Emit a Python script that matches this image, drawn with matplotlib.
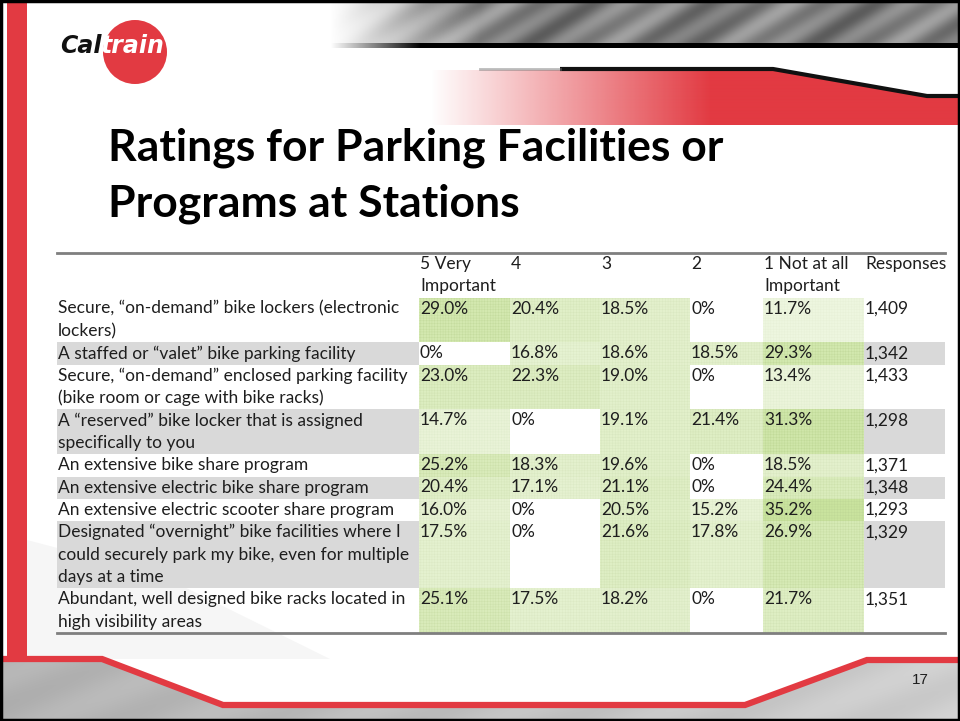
import numpy as np
import matplotlib.pyplot as plt
from matplotlib.patches import Polygon, Rectangle, Circle

# ---- data ----
labels = [
    "Secure, \u201con-demand\u201d bike lockers (electronic\nlockers)",
    "A staffed or \u201cvalet\u201d bike parking facility",
    "Secure, \u201con-demand\u201d enclosed parking facility\n(bike room or cage with bike racks)",
    "A \u201creserved\u201d bike locker that is assigned\nspecifically to you",
    "An extensive bike share program",
    "An extensive electric bike share program",
    "An extensive electric scooter share program",
    "Designated \u201covernight\u201d bike facilities where I\ncould securely park my bike, even for multiple\ndays at a time",
    "Abundant, well designed bike racks located in\nhigh visibility areas",
]
headers = ["5 Very\nImportant", "4", "3", "2", "1 Not at all\nImportant", "Responses"]
very_important = [29.0, 0, 23.0, 14.7, 25.2, 20.4, 16.0, 17.5, 25.1]
rating_4 = [20.4, 16.8, 22.3, 0, 18.3, 17.1, 0, 0, 17.5]
rating_3 = [18.5, 18.6, 19.0, 19.1, 19.6, 21.1, 20.5, 21.6, 18.2]
rating_2 = [0, 18.5, 0, 21.4, 0, 0, 15.2, 17.8, 0]
not_important = [11.7, 29.3, 13.4, 31.3, 18.5, 24.4, 35.2, 26.9, 21.7]
responses = [1409, 1342, 1433, 1298, 1371, 1348, 1293, 1329, 1351]

title = "Ratings for Parking Facilities or\nPrograms at Stations"
page = "17"

RED = "#e23a42"
TXT = "#1e1e1e"
FONT = "Lato"
FS = 12.5

fig = plt.figure(figsize=(9.6, 7.21), dpi=100)
ax = fig.add_axes([0, 0, 1, 1])
ax.set_xlim(0, 960)
ax.set_ylim(721, 0)
ax.axis("off")


def gradient_fill(pts, img, zorder=1):
    poly = Polygon(pts, closed=True, facecolor="none", edgecolor="none")
    ax.add_patch(poly)
    xs = [p[0] for p in pts]
    ys = [p[1] for p in pts]
    im = ax.imshow(img, extent=[min(xs), max(xs), max(ys), min(ys)],
                   origin="upper", aspect="auto", zorder=zorder,
                   interpolation="bilinear")
    im.set_clip_path(poly)


# ---- slide decoration ----
# metal band at top
W, H = 630, 44
xx, yy = np.meshgrid(np.arange(W), np.arange(H))
g = 0.50 + 0.08 * np.sin((xx + 1.6 * yy) / 9.0) + 0.06 * np.sin((xx + 1.2 * yy) / 23.0)
metal = np.dstack([g, g, g, np.clip(xx / 150.0, 0, 1)])
gradient_fill([(330, 0), (960, 0), (960, 43), (330, 43)], metal)
stripe = np.zeros((4, W, 4))
stripe[..., 3] = np.clip(xx[:4] / 90.0, 0, 1)
gradient_fill([(330, 43), (960, 43), (960, 48), (330, 48)], stripe)

# red band with fade-in
band_pts = [(430, 70), (773, 70), (927, 97), (960, 97), (960, 125), (430, 125)]
bw = 530
bx = np.arange(bw)[None, :].repeat(10, axis=0)
rc = plt.matplotlib.colors.to_rgb(RED)
band = np.dstack([np.full(bx.shape, rc[0]), np.full(bx.shape, rc[1]),
                  np.full(bx.shape, rc[2]), np.clip(bx / 280.0, 0, 1)])
gradient_fill(band_pts, band)
ax.plot([560, 773, 927, 960], [69, 69, 96, 96], color="#111111", lw=3, zorder=3,
        solid_capstyle="butt")
ax.plot([480, 560], [69, 69], color="#777777", lw=2, zorder=3, alpha=0.5)

# left red bar
ax.add_patch(Rectangle((7, 0), 20, 660, facecolor=RED, edgecolor="none", zorder=2))

# faint swoosh bottom-left
ax.add_patch(Polygon([(27, 540), (160, 575), (330, 659), (27, 659)], closed=True,
                     facecolor="#f6f6f6", edgecolor="none", zorder=0))

# bottom gray band
foot = [(0, 659), (102, 659), (223, 705), (745, 705), (867, 660), (960, 660),
        (960, 721), (0, 721)]
fx, fy = np.meshgrid(np.linspace(0, 1, 200), np.linspace(0, 1, 20))
fg = 0.70 + 0.11 * fx + 0.02 * np.sin(fx * 40 + fy * 6)
gradient_fill(foot, np.dstack([fg, fg, fg]))
ax.plot([0, 102, 223, 745, 867, 960], [659, 659, 705, 705, 660, 660],
        color=RED, lw=4.5, zorder=3, solid_joinstyle="miter")
ax.text(920, 680, page, fontsize=11, family="Liberation Sans", color=TXT,
        ha="center", va="center", zorder=4)

# logo
ax.add_patch(Circle((135, 52), 32, facecolor=RED, edgecolor="none", zorder=3))
ax.text(102, 53, "Cal", fontsize=17, family="DejaVu Sans", weight="bold",
        style="italic", color="#111111", va="baseline", ha="right", zorder=4)
ax.text(101, 53, "train", fontsize=17, family="DejaVu Sans", weight="bold",
        style="italic", color="white", va="baseline", ha="left", zorder=4)

# title
for i, line in enumerate(title.split("\n")):
    ax.text(108, 160 + i * 57, line, fontsize=32, family=FONT, weight="bold",
            color="black", va="baseline", zorder=4)

# ---- table ----
col_left = [57, 419, 510, 600, 690, 763, 864]
col_right = 945
line_h = 22.35
top = 253

cols = [very_important, rating_4, rating_3, rating_2, not_important]
vmax = max(max(c) for c in cols)
green = np.array([0.79, 0.89, 0.62])
plt.rcParams["hatch.linewidth"] = 0.3

y = top
for j, h in enumerate(headers):
    for k, part in enumerate(h.split("\n")):
        ax.text(col_left[j + 1] + 1, y + 11 + k * line_h, part, fontsize=FS,
                family=FONT, color=TXT, va="center", zorder=5)
y += 2 * line_h

for i, lab in enumerate(labels):
    lines = lab.split("\n")
    rh = len(lines) * line_h
    banded = i % 2 == 1
    if banded:
        ax.add_patch(Rectangle((col_left[0], y), col_left[1] - col_left[0], rh,
                               facecolor="#d9d9d9", edgecolor="none", zorder=2))
        ax.add_patch(Rectangle((col_left[6], y), col_right - col_left[6], rh,
                               facecolor="#d9d9d9", edgecolor="none", zorder=2))
    for k, part in enumerate(lines):
        ax.text(col_left[0] + 1, y + 11 + k * line_h, part, fontsize=FS,
                family=FONT, color=TXT, va="center", zorder=5)
    for j, col in enumerate(cols):
        v = col[i]
        x0, x1 = col_left[j + 1], col_left[j + 2]
        if v > 0:
            t = v / vmax
            fc = 1 - t * (1 - green)
            ec = 1 - min(1.0, t * 1.15) * (1 - green * 0.95)
            ax.add_patch(Rectangle((x0, y), x1 - x0, rh, facecolor=fc,
                                   edgecolor=ec, hatch="++++++", lw=0, zorder=3))
            s = f"{v:.1f}%"
        else:
            s = "0%"
        ax.text(x0 + 1, y + 11, s, fontsize=FS, family=FONT, color=TXT,
                va="center", zorder=5)
    ax.text(col_left[6] + 1, y + 11, f"{responses[i]:,}", fontsize=FS,
            family=FONT, color=TXT, va="center", zorder=5)
    y += rh

ax.plot([col_left[0], col_right], [top, top], color="#7f7f7f", lw=2, zorder=6)
ax.plot([col_left[0], col_right], [y, y], color="#7f7f7f", lw=2, zorder=6)

# slide border
ax.add_patch(Rectangle((1, 1), 958, 719, facecolor="none", edgecolor="black",
                       lw=2.5, zorder=10))

fig.savefig("out.png", dpi=100)
